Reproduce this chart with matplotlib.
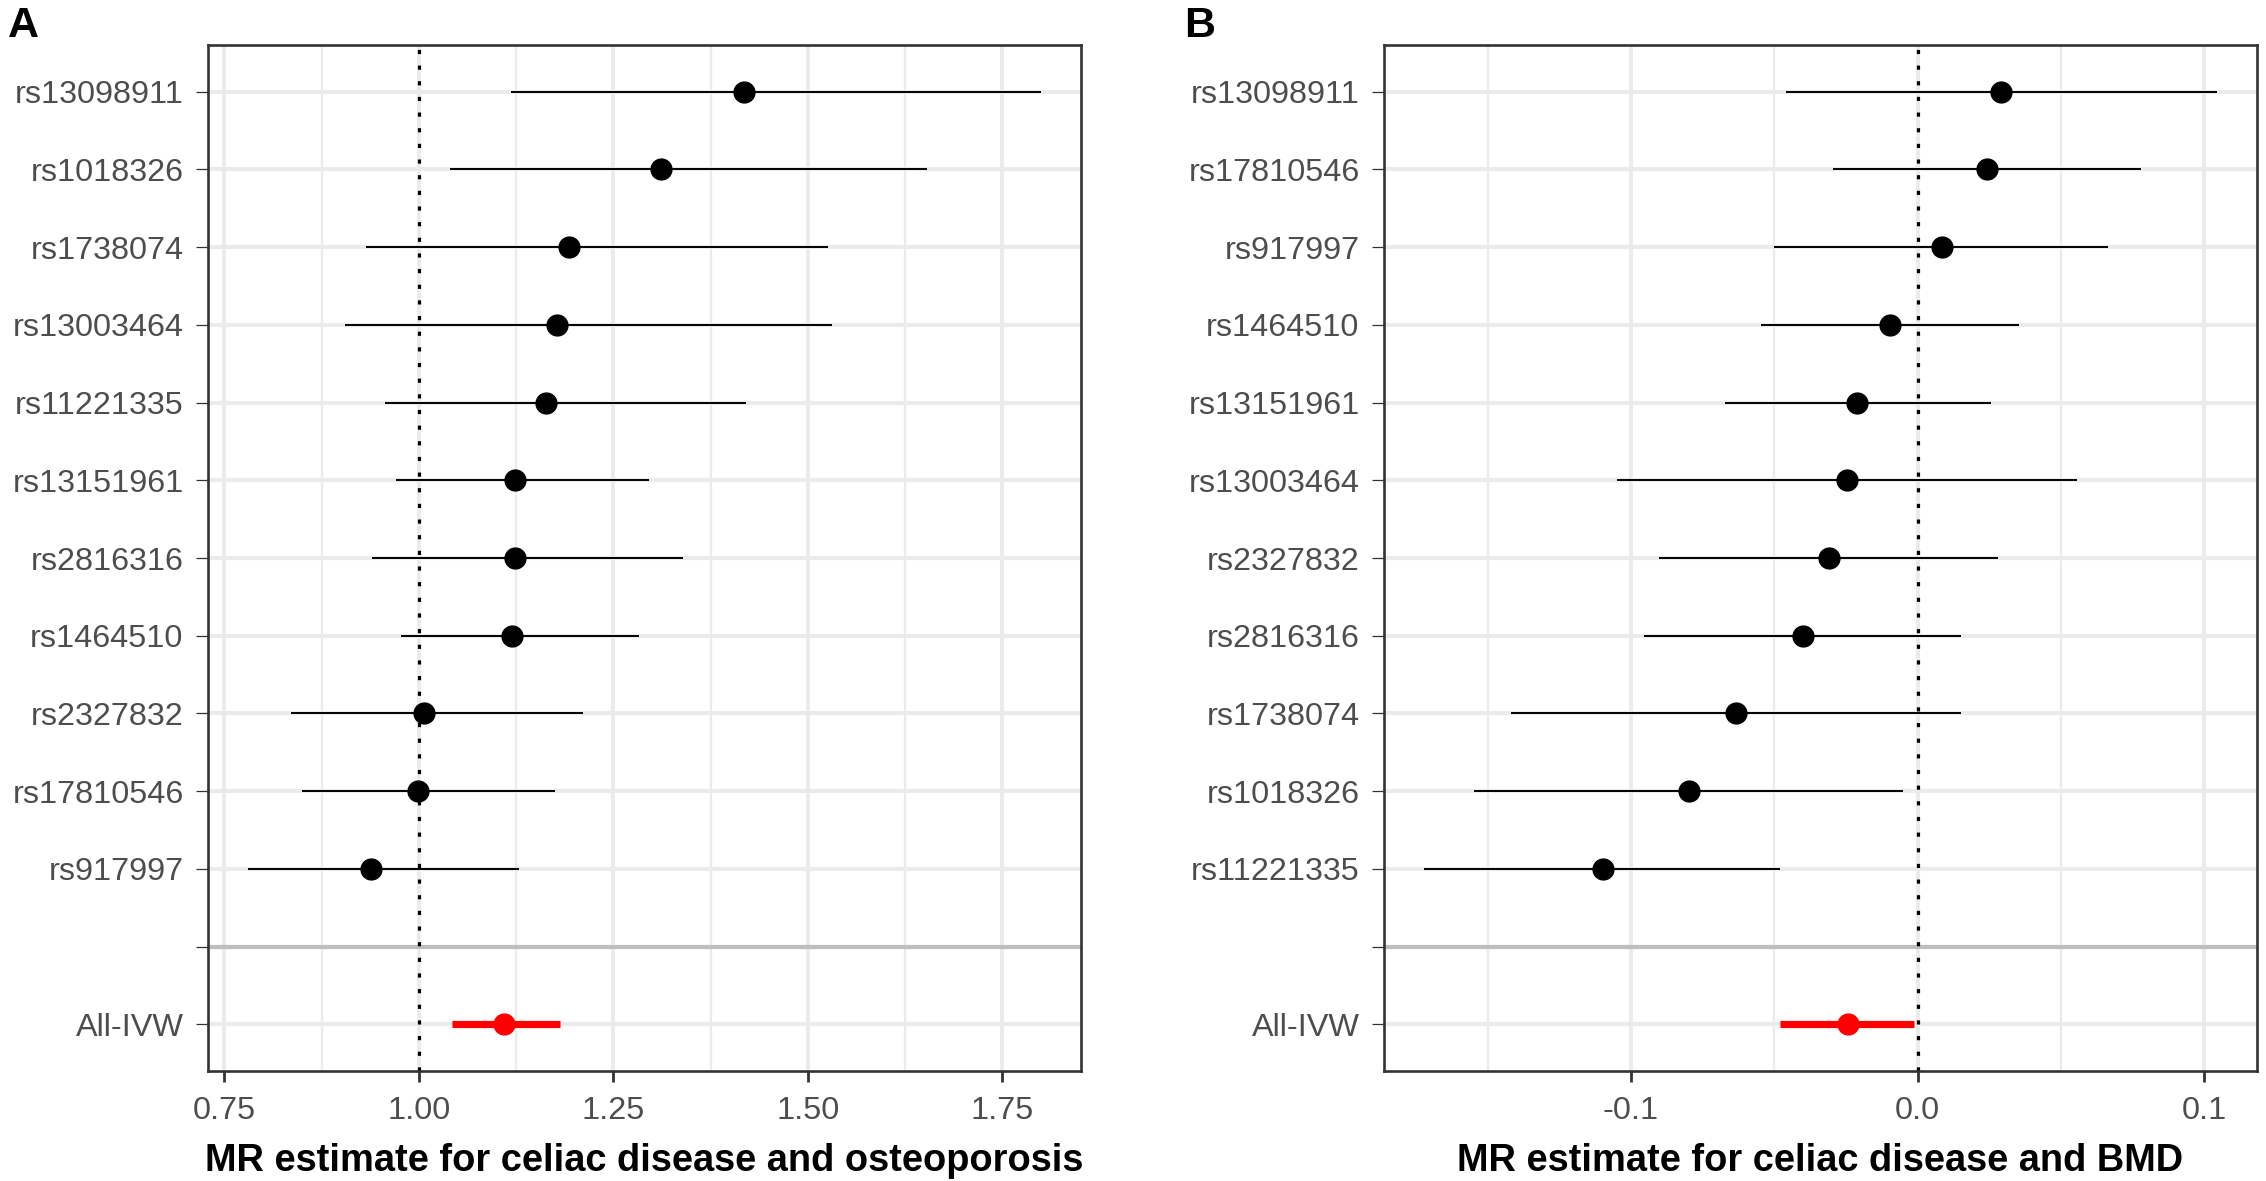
import numpy as np
import matplotlib
matplotlib.use("Agg")
import matplotlib.pyplot as plt
from matplotlib.ticker import MultipleLocator

plt.rcParams['font.family'] = ['Liberation Sans', 'DejaVu Sans']

# ---------------- data (top-to-bottom order) ----------------
snps_a = ["rs13098911", "rs1018326", "rs1738074", "rs13003464", "rs11221335",
          "rs13151961", "rs2816316", "rs1464510", "rs2327832", "rs17810546", "rs917997"]
est_a = [1.418, 1.311, 1.193, 1.177, 1.164, 1.123, 1.123, 1.120, 1.006, 0.999, 0.938]
lo_a = [1.118, 1.040, 0.932, 0.905, 0.956, 0.970, 0.940, 0.977, 0.836, 0.850, 0.780]
hi_a = [1.800, 1.653, 1.526, 1.531, 1.420, 1.296, 1.339, 1.283, 1.211, 1.175, 1.129]
ivw_a = [1.110, 1.043, 1.182]  # estimate, low, high

snps_b = ["rs13098911", "rs17810546", "rs917997", "rs1464510", "rs13151961",
          "rs13003464", "rs2327832", "rs2816316", "rs1738074", "rs1018326", "rs11221335"]
est_b = [0.0292, 0.0242, 0.0086, -0.0096, -0.0212, -0.0247, -0.0310, -0.0400, -0.0635, -0.0796, -0.1098]
lo_b = [-0.0461, -0.0297, -0.0501, -0.0547, -0.0673, -0.1050, -0.0902, -0.0955, -0.1418, -0.1549, -0.1723]
hi_b = [0.1045, 0.0778, 0.0662, 0.0353, 0.0254, 0.0557, 0.0280, 0.0151, 0.0151, -0.0050, -0.0481]
ivw_b = [-0.0244, -0.0481, -0.0013]

panel_labels = ["A", "B"]
xlabels = ["MR estimate for celiac disease and osteoporosis",
           "MR estimate for celiac disease and BMD"]
null_values = [1.0, 0.0]
xticks_a = [0.75, 1.00, 1.25, 1.50, 1.75]
xticklabels_a = ["0.75", "1.00", "1.25", "1.50", "1.75"]
xticks_b = [-0.1, 0.0, 0.1]
xticklabels_b = ["-0.1", "0.0", "0.1"]

# ---------------- figure ----------------
W, H = 2266, 1181
fig = plt.figure(figsize=(W / 100, H / 100), dpi=100)
ax_a = fig.add_axes([208 / W, (H - 1071) / H, 873 / W, 1026 / H])
ax_b = fig.add_axes([1384 / W, (H - 1071) / H, 873 / W, 1026 / H])

grid_col = "#EBEBEB"
border_col = "#333333"
text_col = "#4D4D4D"


def draw(ax, snps, est, lo, hi, ivw, null, xticks, xtl, minor, xlabel):
    n = len(snps)
    labels = snps + ["", "All-IVW"]
    ypos = np.arange(len(labels), 0, -1)  # top row gets largest position
    # x range with ggplot-like 5% expansion
    xmin = min(min(lo), ivw[1])
    xmax = max(max(hi), ivw[2])
    pad = 0.05 * (xmax - xmin)
    ax.set_xlim(xmin - pad, xmax + pad)
    ax.set_ylim(0.4, len(labels) + 0.6)

    # grid
    ax.set_xticks(xticks)
    ax.set_xticklabels(xtl)
    ax.xaxis.set_minor_locator(MultipleLocator(minor))
    ax.grid(axis="x", which="major", color=grid_col, lw=2.8, zorder=0)
    ax.grid(axis="x", which="minor", color=grid_col, lw=1.6, zorder=0)
    ax.set_yticks(ypos)
    ax.set_yticklabels(labels)
    ax.grid(axis="y", which="major", color=grid_col, lw=3.0, zorder=0)
    ax.set_axisbelow(True)

    # separator line at blank category
    ax.axhline(ypos[n], color="#BEBEBE", lw=3.0, zorder=1)
    # null line
    ax.axvline(null, color="black", lw=2.3, linestyle=(0, (1.3, 3.6)), zorder=2)

    # SNP estimates
    y_snp = ypos[:n]
    ax.hlines(y_snp, lo, hi, color="black", lw=1.4, zorder=3)
    ax.plot(est, y_snp, "o", color="black", ms=15, zorder=4)
    # IVW
    y_ivw = ypos[-1]
    ax.hlines([y_ivw], [ivw[1]], [ivw[2]], color="#FF0000", lw=5.2, zorder=3)
    ax.plot([ivw[0]], [y_ivw], "o", color="#FF0000", ms=15, zorder=4)

    # styling
    for s in ax.spines.values():
        s.set_color(border_col)
        s.set_linewidth(1.9)
    ax.tick_params(axis="y", which="major", length=8.6, width=0.9, color=border_col,
                   labelsize=23.3, labelcolor=text_col, pad=9)
    ax.tick_params(axis="x", which="major", length=8, width=2.0, color=border_col,
                   labelsize=23.3, labelcolor=text_col, pad=10)
    ax.tick_params(axis="x", which="minor", length=0)
    ax.set_xlabel(xlabel, fontsize=27.4, fontweight="bold", color="black", labelpad=12)


draw(ax_a, snps_a, est_a, lo_a, hi_a, ivw_a, null_values[0], xticks_a, xticklabels_a, 0.125, xlabels[0])
draw(ax_b, snps_b, est_b, lo_b, hi_b, ivw_b, null_values[1], xticks_b, xticklabels_b, 0.05, xlabels[1])

fig.text(8 / W, 1 - 26 / H, panel_labels[0], fontsize=31, fontweight="bold", ha="left", va="center")
fig.text(1184 / W, 1 - 26 / H, panel_labels[1], fontsize=31, fontweight="bold", ha="left", va="center")

fig.savefig("out.png", dpi=100, facecolor="white")
